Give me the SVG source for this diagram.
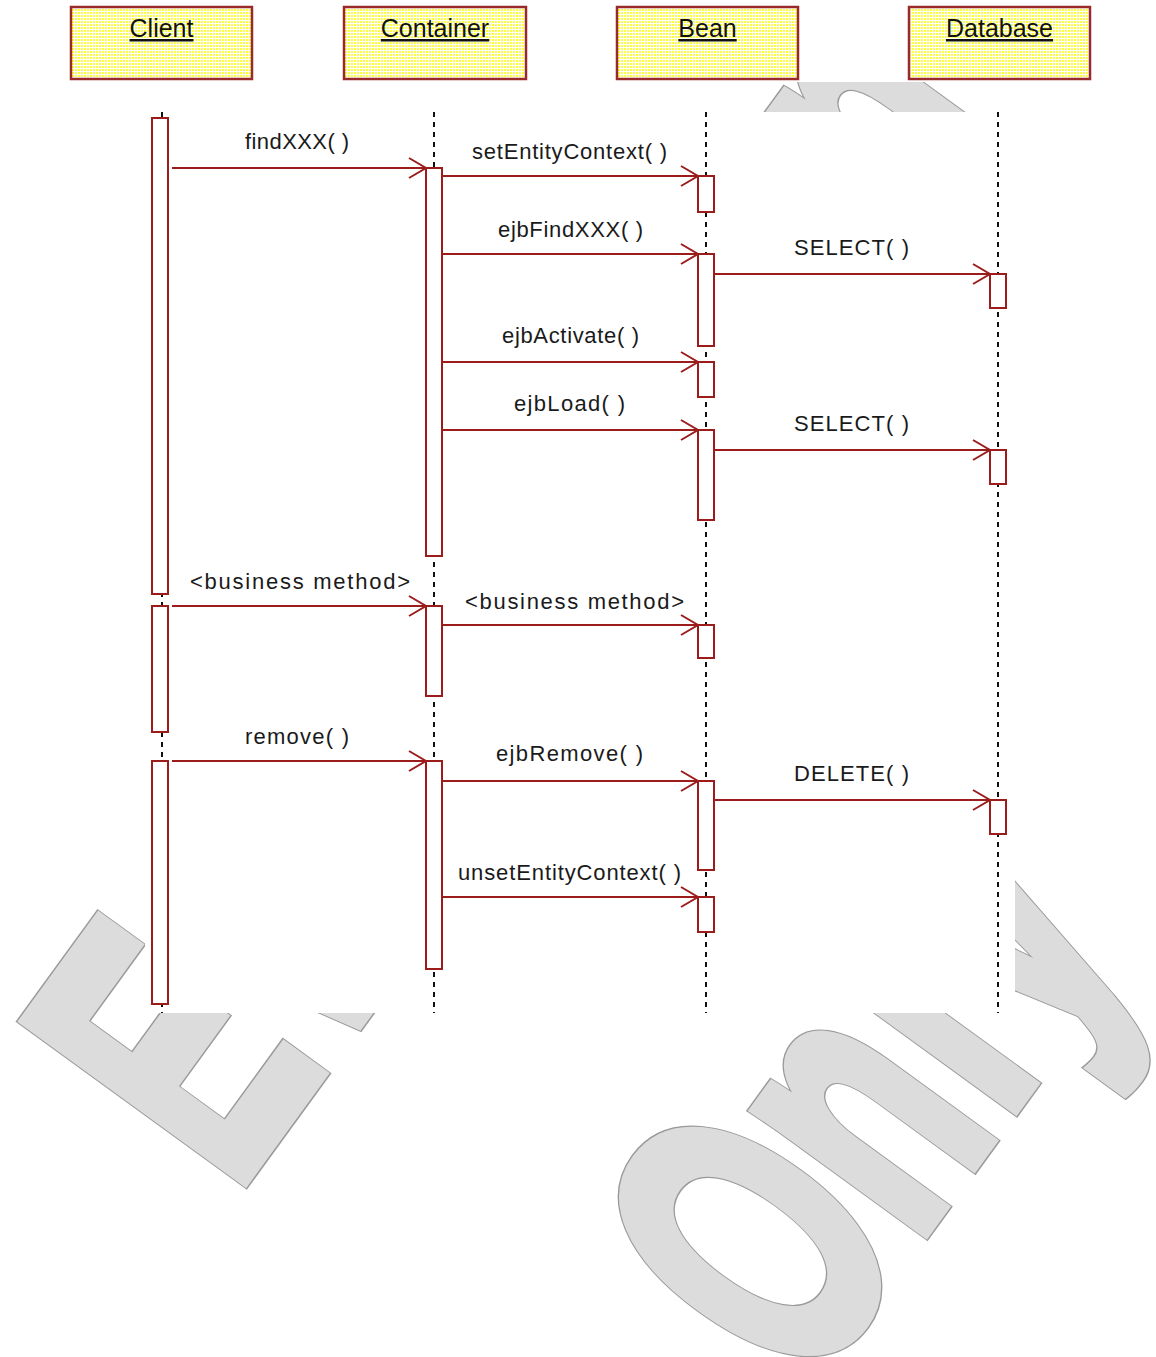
<svg xmlns="http://www.w3.org/2000/svg" xmlns:xlink="http://www.w3.org/1999/xlink" width="1156" height="1357" viewBox="0 0 1156 1357">
<style>
.hdr{stroke:#9a2a2a;stroke-width:2.5;fill:url(#dots)}
.ttl{font-family:"Liberation Sans",Arial,sans-serif;font-size:25px;fill:#111;text-anchor:middle;text-decoration:underline}
.life{stroke:#111;stroke-width:2;stroke-dasharray:5 5;fill:none}
.bar{fill:#fff;stroke:#9c1c1c;stroke-width:2}
.msg{stroke:#9c1c1c;stroke-width:2;fill:none;marker-end:url(#ah)}
.lbl{font-family:"Liberation Sans",Arial,sans-serif;font-size:22px;fill:#1a1a1a}
.wm{font-family:"Liberation Sans",Arial,sans-serif;font-weight:bold;font-size:391px}
</style>
<defs>
<pattern id="dots" width="3" height="3" patternUnits="userSpaceOnUse">
<rect width="3" height="3" fill="#ffffff"/>
<rect width="2" height="2" fill="#fcfc40"/>
</pattern>
<marker id="ah" markerWidth="20" markerHeight="22" refX="18" refY="11" orient="auto" markerUnits="userSpaceOnUse" viewBox="0 0 20 22">
<path d="M1,1 L18,11 L1,21" fill="none" stroke="#9c1c1c" stroke-width="2"/>
</marker>
<g id="wmtext" class="wm" transform="translate(247,1187) rotate(-54) scale(0.61,1)">
<text x="-21.5" y="-7">E</text>
<text x="246" y="-7">v</text>
<text x="1895" y="1">n</text>
<text x="261" y="574">O</text>
<text x="565" y="574">n</text>
<text x="815" y="574">l</text>
<text x="950" y="574">y</text>
</g>
</defs>

<g id="watermark">
<use xlink:href="#wmtext" fill="#9a9a9a" stroke="#9a9a9a" stroke-width="17" stroke-linejoin="miter"/>
<use xlink:href="#wmtext" fill="#dcdcdc" stroke="#dcdcdc" stroke-width="14" stroke-linejoin="miter"/>
</g>
<rect x="0" y="0" width="1156" height="82" fill="#fff"/>
<rect x="145" y="112" width="870" height="901" fill="#fff"/>
<rect x="1015" y="82" width="141" height="700" fill="#fff"/>

<g id="client">
<rect class="hdr" x="71" y="7" width="181" height="72"/>
<text class="ttl" x="161.5" y="37">Client</text>
<line class="life" x1="162" y1="112" x2="162" y2="1013"/>
<rect class="bar" x="152" y="118" width="16" height="476"/>
<rect class="bar" x="152" y="606" width="16" height="126"/>
<rect class="bar" x="152" y="761" width="16" height="243"/>
</g>
<g id="container">
<rect class="hdr" x="344" y="7" width="182" height="72"/>
<text class="ttl" x="435" y="37">Container</text>
<line class="life" x1="434" y1="112" x2="434" y2="1013"/>
<rect class="bar" x="426" y="168" width="16" height="388"/>
<rect class="bar" x="426" y="606" width="16" height="90"/>
<rect class="bar" x="426" y="761" width="16" height="208"/>
</g>
<g id="bean">
<rect class="hdr" x="617" y="7" width="181" height="72"/>
<text class="ttl" x="707.5" y="37">Bean</text>
<line class="life" x1="706" y1="112" x2="706" y2="1013"/>
<rect class="bar" x="698" y="176" width="16" height="36"/>
<rect class="bar" x="698" y="254" width="16" height="92"/>
<rect class="bar" x="698" y="362" width="16" height="35"/>
<rect class="bar" x="698" y="430" width="16" height="90"/>
<rect class="bar" x="698" y="625" width="16" height="33"/>
<rect class="bar" x="698" y="781" width="16" height="89"/>
<rect class="bar" x="698" y="897" width="16" height="35"/>
</g>
<g id="database">
<rect class="hdr" x="909" y="7" width="181" height="72"/>
<text class="ttl" x="999.5" y="37">Database</text>
<line class="life" x1="998" y1="112" x2="998" y2="1013"/>
<rect class="bar" x="990" y="274" width="16" height="34"/>
<rect class="bar" x="990" y="450" width="16" height="34"/>
<rect class="bar" x="990" y="800" width="16" height="34"/>
</g>

<g id="connectors">
<line class="msg" x1="172" y1="168" x2="426" y2="168"/>
<line class="msg" x1="442" y1="176" x2="698" y2="176"/>
<line class="msg" x1="442" y1="254" x2="698" y2="254"/>
<line class="msg" x1="714" y1="274" x2="990" y2="274"/>
<line class="msg" x1="442" y1="362" x2="698" y2="362"/>
<line class="msg" x1="442" y1="430" x2="698" y2="430"/>
<line class="msg" x1="714" y1="450" x2="990" y2="450"/>
<line class="msg" x1="172" y1="606" x2="426" y2="606"/>
<line class="msg" x1="442" y1="625" x2="698" y2="625"/>
<line class="msg" x1="172" y1="761" x2="426" y2="761"/>
<line class="msg" x1="442" y1="781" x2="698" y2="781"/>
<line class="msg" x1="714" y1="800" x2="990" y2="800"/>
<line class="msg" x1="442" y1="897" x2="698" y2="897"/>
<text class="lbl" x="245" y="149" textLength="104" lengthAdjust="spacing">findXXX( )</text>
<text class="lbl" x="472" y="159" textLength="195" lengthAdjust="spacing">setEntityContext( )</text>
<text class="lbl" x="498" y="237" textLength="145" lengthAdjust="spacing">ejbFindXXX( )</text>
<text class="lbl" x="794" y="255" textLength="115" lengthAdjust="spacing">SELECT( )</text>
<text class="lbl" x="502" y="343" textLength="137" lengthAdjust="spacing">ejbActivate( )</text>
<text class="lbl" x="514" y="411" textLength="111" lengthAdjust="spacing">ejbLoad( )</text>
<text class="lbl" x="794" y="431" textLength="115" lengthAdjust="spacing">SELECT( )</text>
<text class="lbl" x="190" y="589" textLength="220" lengthAdjust="spacing">&lt;business method&gt;</text>
<text class="lbl" x="465" y="609" textLength="219" lengthAdjust="spacing">&lt;business method&gt;</text>
<text class="lbl" x="245" y="744" textLength="104" lengthAdjust="spacing">remove( )</text>
<text class="lbl" x="496" y="761" textLength="147" lengthAdjust="spacing">ejbRemove( )</text>
<text class="lbl" x="794" y="781" textLength="115" lengthAdjust="spacing">DELETE( )</text>
<text class="lbl" x="458" y="880" textLength="223" lengthAdjust="spacing">unsetEntityContext( )</text>
</g>
</svg>
